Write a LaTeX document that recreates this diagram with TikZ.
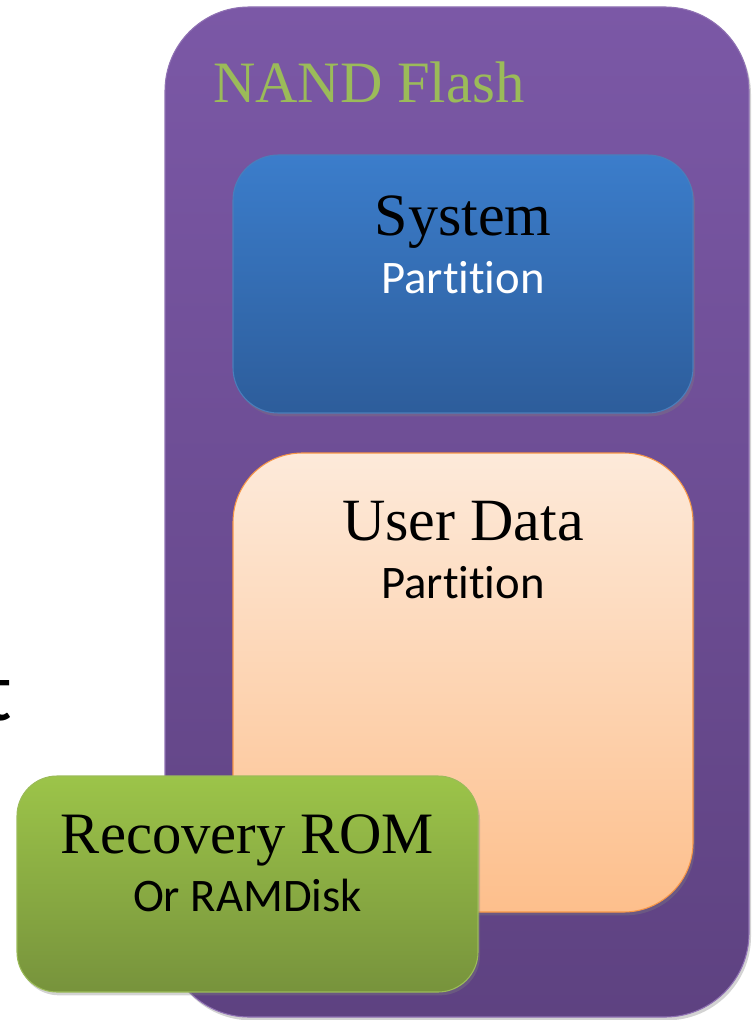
\documentclass[tikz,border=0pt]{standalone}
\usepackage{fontspec}
\setmainfont{Liberation Serif}
\newfontfamily\calibri[RawFeature=-liga]{Carlito}
\usetikzlibrary{shadows}
\definecolor{purpTop}{HTML}{7B58A6}
\definecolor{purpBot}{HTML}{5E4281}
\definecolor{blueTop}{HTML}{3B7DCB}
\definecolor{blueBot}{HTML}{2D5D9B}
\definecolor{blueLine}{HTML}{4A7EBB}
\definecolor{peachTop}{HTML}{FDEADA}
\definecolor{peachBot}{HTML}{FDBF8C}
\definecolor{peachLine}{HTML}{F79646}
\definecolor{greenTop}{HTML}{9CC449}
\definecolor{greenBot}{HTML}{77933C}
\definecolor{greenLine}{HTML}{9BBB59}
\definecolor{nandText}{HTML}{9BBB59}
\tikzset{
  box/.style={rectangle, inner sep=0pt, line width=0.8pt,
    drop shadow={opacity=0.35, shadow xshift=1.5pt, shadow yshift=-2.5pt}},
  serifbig/.style={font=\fontsize{45}{50}\selectfont, inner sep=0pt, anchor=base},
  calsub/.style={font=\calibri\fontsize{35}{40}\selectfont, inner sep=0pt, anchor=base},
}
\begin{document}
\begin{tikzpicture}[x=0.75pt,y=-0.75pt]
\useasboundingbox (0,0) rectangle (751,1020);
% partial letter at left edge (cut off in the reference as well)
\node[font=\calibri\fontsize{64}{70}\selectfont, inner sep=0pt, anchor=base east] (tcut) at (12,720) {t};
% NAND Flash outer box
\node[box, draw=purpTop!85!white, top color=purpTop, bottom color=purpBot,
  rounded corners=63pt, minimum width=438pt, minimum height=757.5pt] (nand) at (457,512) {};
\node[font=\fontsize{44}{48}\selectfont, text=nandText, inner sep=0pt, anchor=base west] (nandlbl) at (213,103) {NAND Flash};
% System partition
\node[box, draw=blueLine, top color=blueTop, bottom color=blueBot,
  rounded corners=34pt, minimum width=345pt, minimum height=193.5pt] (sys) at (463,284) {};
\node[serifbig] (sys1) at (463,235) {System};
\node[calsub, text=white] (sys2) at (463,293) {Partition};
% User data partition
\node[box, draw=peachLine, top color=peachTop, bottom color=peachBot,
  rounded corners=52pt, minimum width=345pt, minimum height=344.25pt] (usr) at (463,682.5) {};
\node[serifbig] (usr1) at (463,540) {User Data};
\node[calsub] (usr2) at (463,598) {Partition};
% Recovery ROM
\node[box, draw=greenLine, top color=greenTop, bottom color=greenBot,
  rounded corners=30pt, minimum width=345.75pt, minimum height=162pt] (rec) at (247.5,884) {};
\node[serifbig, font=\fontsize{44}{48}\selectfont] (rec1) at (247.5,853) {Recovery ROM};
\node[calsub] (rec2) at (247.5,911) {Or RAMDisk};
\end{tikzpicture}
\end{document}
